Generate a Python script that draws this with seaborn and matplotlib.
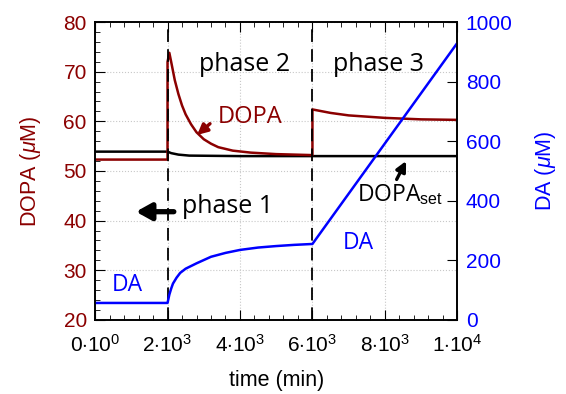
import pandas as pd
import matplotlib.pyplot as plt
import seaborn as sns
from matplotlib.ticker import MultipleLocator

sns.set_style("ticks")
plt.rcParams['font.family'] = ['Liberation Sans', 'DejaVu Sans']
plt.rcParams['mathtext.fontset'] = 'custom'
plt.rcParams['mathtext.rm'] = 'Liberation Sans'
plt.rcParams['mathtext.it'] = 'Liberation Sans:italic'
plt.rcParams['text.color'] = 'black'
plt.rcParams['axes.labelcolor'] = 'black'
plt.rcParams['xtick.color'] = 'black'
plt.rcParams['ytick.color'] = 'black'

# 数据
dopa_t = [0, 2000, 2000, 2050, 2100, 2200, 2300, 2400, 2500, 2650, 2800, 3000,
          3200, 3400, 3800, 4300, 5000, 6000, 6000, 6500, 7000, 8000, 9000, 10000]
dopa_v = [52.3, 52.3, 72.0, 73.8, 72.0, 68.3, 65.5, 63.2, 61.4, 59.4, 57.8, 56.4,
          55.5, 54.8, 54.1, 53.7, 53.4, 53.2, 62.4, 61.7, 61.2, 60.7, 60.4, 60.3]

dset_t = [0, 2000, 2100, 2300, 2600, 4000, 10000]
dset_v = [53.9, 53.9, 53.6, 53.3, 53.1, 53.0, 53.0]

da_t = [0, 2000, 2050, 2100, 2150, 2250, 2350, 2500, 2800, 3200, 3600, 4000,
        4500, 5000, 5500, 6000, 10000]
da_v = [57, 57, 85, 105, 122, 142, 158, 172, 190, 212, 225, 235,
        243, 248, 252, 255, 930]

xticks = [0, 2000, 4000, 6000, 8000, 10000]
xtick_labels = [r'$0{\cdot}10^{0}$', r'$2{\cdot}10^{3}$', r'$4{\cdot}10^{3}$',
                r'$6{\cdot}10^{3}$', r'$8{\cdot}10^{3}$', r'$1{\cdot}10^{4}$']

red = '#8b0000'
blue = '#0000ff'

df_dopa = pd.DataFrame({'t': dopa_t, 'v': dopa_v})
df_set = pd.DataFrame({'t': dset_t, 'v': dset_v})
df_da = pd.DataFrame({'t': da_t, 'v': da_v})

fig = plt.figure(figsize=(5.66, 3.94), dpi=100)
ax = fig.add_axes([0.168, 0.188, 0.64, 0.756])
ax2 = ax.twinx()

sns.lineplot(data=df_set, x='t', y='v', ax=ax, color='black', lw=1.8,
             estimator=None, sort=False)
sns.lineplot(data=df_dopa, x='t', y='v', ax=ax, color=red, lw=1.8,
             estimator=None, sort=False)
sns.lineplot(data=df_da, x='t', y='v', ax=ax2, color=blue, lw=1.8,
             estimator=None, sort=False)

for xv in [2000, 6000]:
    ax.axvline(xv, color='black', lw=1.3, ls=(0, (7, 4)), zorder=5)

ax.set_xlim(0, 10000)
ax.set_ylim(20, 80)
ax2.set_ylim(0, 1000)

ax.set_xticks(xticks)
ax.set_xticklabels(xtick_labels, fontsize=15)
ax.xaxis.set_minor_locator(MultipleLocator(400))
ax.yaxis.set_major_locator(MultipleLocator(10))
ax.yaxis.set_minor_locator(MultipleLocator(2))
ax2.yaxis.set_major_locator(MultipleLocator(200))

ax.grid(True, which='major', color='#c8c8c8', ls=':', lw=0.8)
ax.tick_params(axis='both', which='both', direction='in', top=True)
ax.tick_params(axis='x', which='major', length=7, pad=10)
ax.tick_params(axis='y', which='major', length=7, labelsize=15, labelcolor=red, pad=6)
ax.tick_params(which='minor', length=3.5)
ax2.tick_params(axis='y', which='major', direction='in', length=7, labelsize=15,
                labelcolor=blue, pad=6)

ax.set_xlabel('time (min)', fontsize=15.5, labelpad=10)
ax.set_ylabel(r'DOPA ($\mu$M)', fontsize=15.5, color=red, labelpad=15)
ax2.set_ylabel(r'DA ($\mu$M)', fontsize=15.5, color=blue, labelpad=15)
ax2.set_xlabel('')

for a in (ax, ax2):
    for s in a.spines.values():
        s.set_linewidth(1.2)
        s.set_color('black')

# 注释文字
tfont = ['Open Sans', 'DejaVu Sans']
ax.text(4120, 71.5, 'phase 2', fontsize=18, color='black', ha='center', va='center', family=tfont)
ax.text(7820, 71.5, 'phase 3', fontsize=18, color='black', ha='center', va='center', family=tfont)
ax.text(3670, 42.8, 'phase 1', fontsize=18, color='black', ha='center', va='center', family=tfont)
ax.annotate('', xy=(1050, 41.8), xytext=(2250, 41.8),
            arrowprops=dict(arrowstyle='-|>,head_length=0.9,head_width=0.5',
                            lw=3.8, color='black'))
ax.text(3400, 60.9, 'DOPA', fontsize=17, color=red, ha='left', va='center', family=tfont)
ax.annotate('', xy=(2760, 56.9), xytext=(3230, 59.9),
            arrowprops=dict(arrowstyle='-|>,head_length=0.6,head_width=0.3',
                            lw=2.4, color=red))
ax.text(8430, 45.2, r'DOPA$_{\mathrm{set}}$', fontsize=16.5, color='black',
        ha='center', va='center', family=tfont)
ax.annotate('', xy=(8620, 52.5), xytext=(8290, 47.8),
            arrowprops=dict(arrowstyle='-|>,head_length=0.6,head_width=0.3',
                            lw=2.4, color='black'))
ax.text(900, 27.1, 'DA', fontsize=16.5, color=blue, ha='center', va='center', family=tfont)
ax.text(7270, 35.5, 'DA', fontsize=16.5, color=blue, ha='center', va='center', family=tfont)

fig.savefig('out.png', dpi=100)
